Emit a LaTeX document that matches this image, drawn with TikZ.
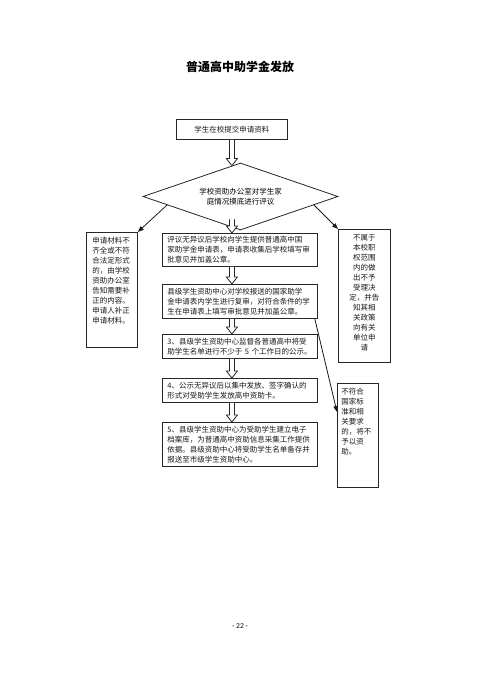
\documentclass[tikz,border=0pt]{standalone}
\usepackage{fontspec}
\setmainfont{Noto Sans CJK SC}
\newfontfamily\pagenofont{Carlito}
\usetikzlibrary{shapes.geometric,arrows.meta,calc}
\tikzset{
  box/.style={draw=black!85, line width=0.8pt, rectangle, anchor=north west, inner sep=0pt, font=\fontsize{7.5}{10}\selectfont, text=black!90},
  wbox/.style={box, minimum width=155pt, text width=145pt, align=left, inner xsep=5pt},
  harr/.style={draw=black!85, line width=0.8pt, fill=white, line join=miter},
  darr/.style={draw=black!90, line width=0.8pt, -{Triangle[length=6pt,width=4.5pt]}}
}
\newcommand\harrow[2]{\draw[harr] let \p1=#1, \p2=#2 in (\x1-2.5pt,\y1) -- (\x1-2.5pt,\y2+7pt) -- (\x1-5.5pt,\y2+7pt) -- (\x1,\y2) -- (\x1+5.5pt,\y2+7pt) -- (\x1+2.5pt,\y2+7pt) -- (\x1+2.5pt,\y1);}
\begin{document}
\begin{tikzpicture}[x=1pt,y=-1pt]
\useasboundingbox[fill=white] (0,0) rectangle (480,679);
\node[font=\fontsize{12}{14}\selectfont\bfseries] (title) at (240,67) {普通高中助学金发放};
\node[box, minimum width=111pt, minimum height=20pt] (b1) at (176,119) {学生在校提交申请资料};
\node[draw=black!85, line width=0.8pt, diamond, aspect=2.9, minimum width=195pt, minimum height=67pt, inner sep=0pt, align=center, font=\fontsize{7.5}{10}\selectfont] (dia) at (240.5,196.5) {学校资助办公室对学生家\\庭情况摸底进行评议};
\node[box, inner xsep=6pt, inner ysep=5pt] (lb) at (86,232) {\parbox[c][105pt][t]{39pt}{申请材料不\\齐全或不符\\合法定形式\\的，由学校\\资助办公室\\告知需要补\\正的内容。\\申请人补正\\申请材料。}};
\node[box, inner xsep=6pt, inner ysep=5pt] (rb) at (338,229) {\parbox[c][123pt][t]{40pt}{\centering 不属于\\本校职\\权范围\\内的做\\出不予\\受理决\\定，并告\\知其相\\关政策\\向有关\\单位申\\请}};
\node[wbox, minimum height=33pt] (b2) at (162,233) {评议无异议后学校向学生提供普通高中国\\家助学金申请表，申请表收集后学校填写审\\批意见并加盖公章。};
\node[wbox, minimum height=34pt] (b3) at (162,284) {县级学生资助中心对学校报送的国家助学\\金申请表内学生进行复审，对符合条件的学\\生在申请表上填写审批意见并加盖公章。};
\node[wbox, minimum height=24pt] (b4) at (162,334) {3、县级学生资助中心监督各普通高中将受\\助学生名单进行不少于 5 个工作日的公示。};
\node[wbox, minimum height=24pt] (b5) at (162,378) {4、公示无异议后以集中发放、签字确认的\\形式对受助学生发放高中资助卡。};
\node[wbox, minimum height=44pt] (b6) at (162,422) {5、县级学生资助中心为受助学生建立电子\\档案库，为普通高中资助信息采集工作提供\\依据。县级资助中心将受助学生名单备存并\\报送至市级学生资助中心。};
\node[box, inner xsep=4pt, inner ysep=5pt] (brb) at (337,383) {\parbox[c][94pt][t]{33pt}{不符合\\国家标\\准和相\\关要求\\的，将不\\予以资\\助。}};
\node[font=\pagenofont\fontsize{7.5}{9}\selectfont] (pg) at (240,626) {- 22 -};
% hollow arrows
\harrow{(b1.south)}{($(dia.north)+(0,3)$)}
\harrow{($(dia.south -| b1.south)+(0,-11)$)}{(b2.north)}
\harrow{(b2.south -| b1.south)}{(b3.north)}
\harrow{(b3.south -| b1.south)}{(b4.north)}
\harrow{(b4.south -| b1.south)}{(b5.north)}
\harrow{(b5.south -| b1.south)}{(b6.north)}
% side arrows
\draw[darr] ($(dia.west)!0.25!(dia.south)$) -- (lb.north east);
\draw[darr] ($(dia.east)!0.25!(dia.south)$) -- (rb.north west);
\draw[darr] ($(b3.south east)+(-3,0)$) -- ($(brb.north west)+(0,29)$);
\end{tikzpicture}
\end{document}
